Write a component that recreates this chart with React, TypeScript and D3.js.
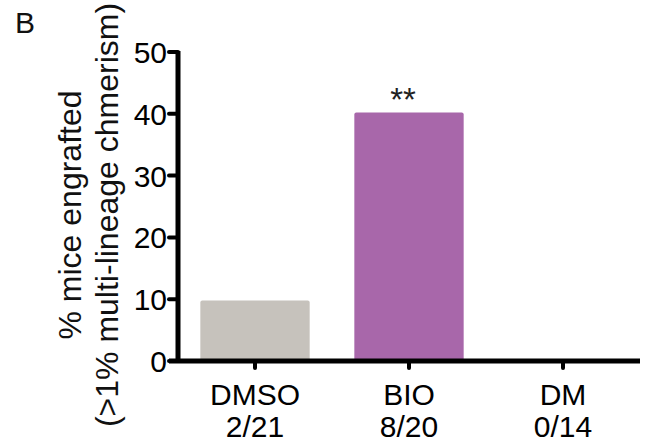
import React, { useEffect, useRef } from "react";
import * as d3 from "d3";

const categories = ["DMSO", "BIO", "DM"];
const counts = ["2/21", "8/20", "0/14"];
const values = [9.8, 40.2, 0];
const colors = ["#c6c2bc", "#a867aa", "#dcdcdc"];
const yTicks = [0, 10, 20, 30, 40, 50];
const yLabel = ["% mice engrafted", "(>1% multi-lineage chmerism)"];
const significance = ["", "**", ""];

const W = 651;
const H = 445;
const FONT = "'Liberation Sans', Arial, Helvetica, sans-serif";

const App = () => {
  const ref = useRef<SVGSVGElement | null>(null);

  useEffect(() => {
    if (!ref.current) return;
    const svg = d3.select(ref.current);
    svg.selectAll("*").remove();

    const margin = { top: 52, right: 11, bottom: 84, left: 178 };
    const x = d3
      .scaleBand()
      .domain(categories)
      .range([margin.left, W - margin.right])
      .paddingInner(0.29)
      .paddingOuter(0.145);
    const y = d3
      .scaleLinear()
      .domain([0, 50])
      .range([H - margin.bottom, margin.top]);

    const g = svg.append("g");

    // bars
    g.selectAll("rect.bar")
      .data(values)
      .enter()
      .append("rect")
      .attr("class", "bar")
      .attr("x", (_, i) => x(categories[i]) as number)
      .attr("width", x.bandwidth())
      .attr("y", (d) => y(d) - (d === 0 ? 1 : 0))
      .attr("height", (d) => y(0) - y(d) + (d === 0 ? 1 : 0))
      .attr("rx", 2)
      .attr("fill", (_, i) => colors[i]);

    // y axis line
    g.append("line")
      .attr("x1", margin.left)
      .attr("x2", margin.left)
      .attr("y1", y(50) - 1)
      .attr("y2", y(0))
      .attr("stroke", "#000")
      .attr("stroke-width", 5);

    // x axis line
    g.append("line")
      .attr("x1", margin.left - 9)
      .attr("x2", W - margin.right)
      .attr("y1", y(0))
      .attr("y2", y(0))
      .attr("stroke", "#000")
      .attr("stroke-width", 5);

    // y ticks
    g.selectAll("line.ytick")
      .data(yTicks)
      .enter()
      .append("line")
      .attr("x1", margin.left - 9)
      .attr("x2", margin.left)
      .attr("y1", (d) => y(d))
      .attr("y2", (d) => y(d))
      .attr("stroke", "#000")
      .attr("stroke-width", 4)
      .attr("stroke-linecap", "round");

    g.selectAll("text.ylab")
      .data(yTicks)
      .enter()
      .append("text")
      .attr("x", margin.left - 11)
      .attr("y", (d) => y(d) + 11)
      .attr("text-anchor", "end")
      .attr("font-family", FONT)
      .attr("font-size", 30)
      .attr("fill", "#000")
      .text((d) => d);

    // x ticks
    g.selectAll("line.xtick")
      .data(categories)
      .enter()
      .append("line")
      .attr("x1", (d) => (x(d) as number) + x.bandwidth() / 2)
      .attr("x2", (d) => (x(d) as number) + x.bandwidth() / 2)
      .attr("y1", y(0))
      .attr("y2", y(0) + 7)
      .attr("stroke", "#000")
      .attr("stroke-width", 4)
      .attr("stroke-linecap", "round");

    const xl = g
      .selectAll("text.xlab")
      .data(categories)
      .enter()
      .append("text")
      .attr("text-anchor", "middle")
      .attr("font-family", FONT)
      .attr("font-size", 30)
      .attr("fill", "#000");
    xl.append("tspan")
      .attr("x", (d) => (x(d) as number) + x.bandwidth() / 2)
      .attr("y", y(0) + 44)
      .text((d) => d);
    xl.append("tspan")
      .attr("x", (d) => (x(d) as number) + x.bandwidth() / 2)
      .attr("y", y(0) + 76)
      .text((_, i) => counts[i]);

    // significance marks
    g.selectAll("text.sig")
      .data(values)
      .enter()
      .append("text")
      .attr("x", (_, i) => (x(categories[i]) as number) + x.bandwidth() / 2 - 6)
      .attr("y", (d) => y(d) - 2)
      .attr("text-anchor", "middle")
      .attr("font-family", FONT)
      .attr("font-size", 33)
      .attr("fill", "#222")
      .text((_, i) => significance[i]);

    // y axis title
    const yt = g
      .append("text")
      .attr("transform", `translate(0,215) rotate(-90)`)
      .attr("text-anchor", "middle")
      .attr("font-family", FONT)
      .attr("font-size", 32)
      .attr("fill", "#111");
    yt.append("tspan").attr("x", 0).attr("y", 81).text(yLabel[0]);
    yt.append("tspan").attr("x", 0).attr("y", 118).text(yLabel[1]);

    // panel letter
    g.append("text")
      .attr("x", 15)
      .attr("y", 33)
      .attr("font-family", FONT)
      .attr("font-size", 30)
      .attr("fill", "#111")
      .text("B");
  }, []);

  return (
    <svg
      ref={ref}
      width={W}
      height={H}
      style={{ position: "absolute", left: 0, top: 0, background: "#fff" }}
    />
  );
};

export default App;
